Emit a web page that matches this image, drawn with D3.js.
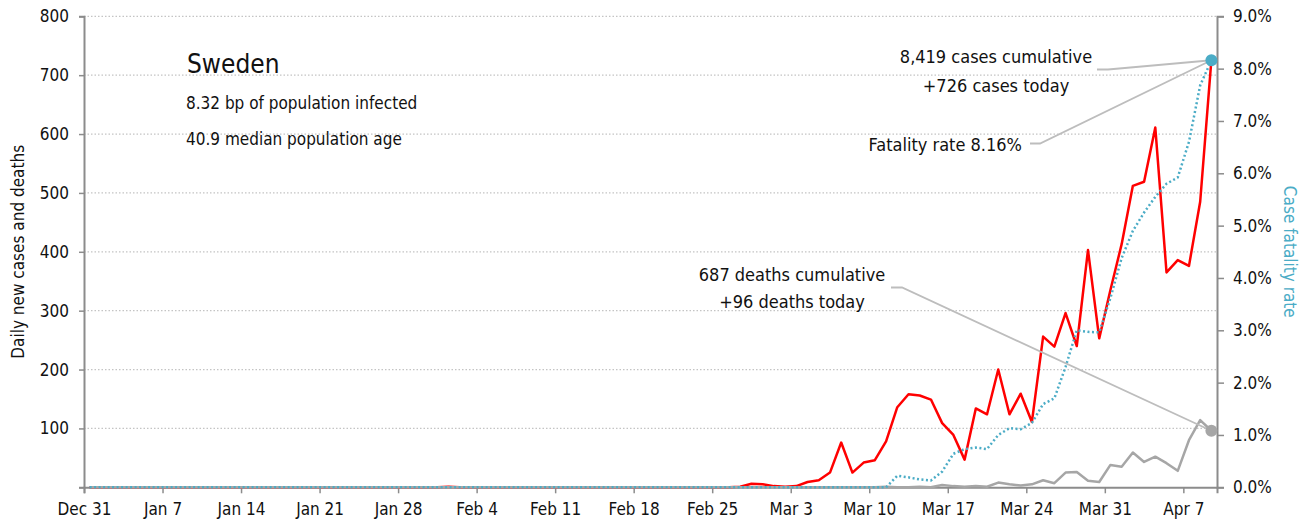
<!DOCTYPE html>
<html><head><meta charset="utf-8">
<script src="https://cdn.jsdelivr.net/npm/d3@7"></script>
<style>
body{margin:0;background:#fff}
text{font-family:"Liberation Sans Narrow","DejaVu Sans Condensed","Roboto Condensed",sans-serif;fill:#111}
</style>
</head><body><svg id="c" width="1316" height="526"></svg>
<script>
// ---- data (one value per day, Dec 31 .. Apr 9) ----
const tickLabels = ["Dec 31","Jan 7","Jan 14","Jan 21","Jan 28","Feb 4","Feb 11","Feb 18","Feb 25","Mar 3","Mar 10","Mar 17","Mar 24","Mar 31","Apr 7"];
const newCases = [
  0,0,0,0,0,0,0,0,0,0, 0,0,0,0,0,0,0,0,0,0, 0,0,0,0,0,0,0,0,0,0,
  0,0,1,0,0,0,0,0,0,0, 0,0,0,0,0,0,0,0,0,0, 0,0,0,0,0,0,0,0,1,6,
  5,2,1,2,9,12,25,76,25,42, 46,78,136,158,156,149,109,89,47,134,
  124,200,124,159,111,256,239,296,240,403, 253,335,413,512,519,611,365,386,376,485,
  726];
const newDeaths = [
  0,0,0,0,0,0,0,0,0,0, 0,0,0,0,0,0,0,0,0,0, 0,0,0,0,0,0,0,0,0,0,
  0,0,0,0,0,0,0,0,0,0, 0,0,0,0,0,0,0,0,0,0, 0,0,0,0,0,0,0,0,0,0,
  0,0,0,0,0,0,0,0,0,0, 0,1,0,0,1,0,4,2,1,2,
  1,8,5,3,5,12,7,25,26,11, 9,38,35,59,43,52,41,28,80,114,
  96];
const fatalityRate = [ // percent
  0,0,0,0,0,0,0,0,0,0, 0,0,0,0,0,0,0,0,0,0, 0,0,0,0,0,0,0,0,0,0,
  0,0,0,0,0,0,0,0,0,0, 0,0,0,0,0,0,0,0,0,0, 0,0,0,0,0,0,0,0,0,0,
  0,0,0,0,0,0,0,0,0,0, 0,0,0.22,0.19,0.15,0.13,0.30,0.64,0.73,0.76,
  0.73,1.0,1.13,1.11,1.23,1.59,1.70,2.3,3.0,2.97, 2.96,3.62,4.38,4.9,5.25,5.55,5.8,5.92,6.6,7.68,
  8.16];
const leftTicks = [0,100,200,300,400,500,600,700,800];
const rightTicks = [0,1,2,3,4,5,6,7,8,9];
const title = "Sweden";
const subtitles = ["8.32 bp of population infected","40.9 median population age"];
const casesNote = ["8,419 cases cumulative","+726 cases today"];
const deathsNote = ["687 deaths cumulative","+96 deaths today"];
const cfrNote = "Fatality rate 8.16%";

// ---- layout ----
const svg = d3.select("#c");
const L = 84, R = 1217, T = 16.3, B = 487.3;
const n = newCases.length;
const x = d3.scaleLinear().domain([0, n]).range([L, R]);
const px = i => x(i + 0.5);
const yL = d3.scaleLinear().domain([0, 800]).range([B, T]);
const yR = d3.scaleLinear().domain([0, 9]).range([B, T]);
const axisCol = "#8c8c8c", blue = "#4bacc6", grey = "#a6a6a6", red = "#ff0000";
const FS = 17, AS = 18;

// gridlines
svg.append("g").selectAll("line").data(leftTicks.filter(d => d > 0)).join("line")
  .attr("x1", L).attr("x2", R).attr("y1", d => yL(d)).attr("y2", d => yL(d))
  .attr("stroke", "#c4c4c4").attr("stroke-width", 1.2).attr("stroke-dasharray", "1.5,2");

// axes
const gL = svg.append("g").attr("transform", `translate(${L},0)`)
  .call(d3.axisLeft(yL).tickValues(leftTicks).tickFormat(d => d === 0 ? "" : d).tickSize(5).tickPadding(10));
const gR = svg.append("g").attr("transform", `translate(${R},0)`)
  .call(d3.axisRight(yR).tickValues(rightTicks).tickFormat(d => d.toFixed(1) + "%").tickSize(7).tickPadding(9));
const gB = svg.append("g").attr("transform", `translate(0,${B})`)
  .call(d3.axisBottom(x).tickValues(tickLabels.map((_, i) => i * 7)).tickFormat((d, i) => tickLabels[i]).tickSize(6).tickPadding(10));
[gL, gR, gB].forEach(g => {
  g.select(".domain").attr("stroke", axisCol).attr("stroke-width", 2);
  g.selectAll(".tick line").attr("stroke", axisCol).attr("stroke-width", 1.5);
  g.selectAll("text").attr("font-size", FS).attr("font-family", null);
});
gL.selectAll("text").attr("fill", "#111");
gB.selectAll("text").attr("fill", "#111");
gR.selectAll("text").attr("fill", blue);

// axis titles
svg.append("text").attr("transform", `translate(24,${(T + B) / 2}) rotate(-90)`)
  .attr("text-anchor", "middle").attr("font-size", 17).text("Daily new cases and deaths");
svg.append("text").attr("transform", `translate(1284,${(T + B) / 2}) rotate(90)`)
  .attr("text-anchor", "middle").attr("font-size", 17).style("fill", blue).text("Case fatality rate");

// lines
const lineL = d3.line().x((d, i) => px(i)).y(d => yL(d));
const lineR = d3.line().x((d, i) => px(i)).y(d => yR(d));
svg.append("path").datum(newCases).attr("d", lineL).attr("fill", "none").attr("stroke", red).attr("stroke-width", 2.5).attr("stroke-linejoin", "round");
svg.append("path").datum(newDeaths).attr("d", lineL).attr("fill", "none").attr("stroke", grey).attr("stroke-width", 2.5).attr("stroke-linejoin", "round");
svg.append("path").datum(fatalityRate).attr("d", lineR).attr("fill", "none").attr("stroke", blue).attr("stroke-width", 2.5).attr("stroke-dasharray", "2,2.5");

// annotations
const last = n - 1;
const cx = px(last), cyC = yR(fatalityRate[last]), cyD = yL(newDeaths[last]);
const lc = "#bdbdbd";
svg.append("text").attr("x", 187).attr("y", 73).attr("font-size", 26).text(title);
subtitles.forEach((s, k) => svg.append("text").attr("x", 186).attr("y", 109 + k * 36).attr("font-size", FS).text(s));

casesNote.forEach((s, k) => svg.append("text").attr("x", 996).attr("y", 63 + k * 29).attr("text-anchor", "middle").attr("font-size", AS).text(s));
svg.append("text").attr("x", 1022).attr("y", 151).attr("text-anchor", "end").attr("font-size", AS).text(cfrNote);
deathsNote.forEach((s, k) => svg.append("text").attr("x", 792).attr("y", 281 + k * 27).attr("text-anchor", "middle").attr("font-size", AS).text(s));

const leader = pts => svg.append("path").attr("d", d3.line()(pts)).attr("fill", "none").attr("stroke", lc).attr("stroke-width", 1.8);
leader([[1097, 69.5], [1108, 69.5], [cx, cyC]]);
leader([[1030, 143.5], [1040, 143.5], [cx, cyC]]);
leader([[891, 287.5], [902, 287.5], [cx, cyD]]);

svg.append("circle").attr("cx", cx).attr("cy", cyD).attr("r", 6).attr("fill", grey);
svg.append("circle").attr("cx", cx).attr("cy", cyC).attr("r", 6).attr("fill", blue);
</script></body></html>
